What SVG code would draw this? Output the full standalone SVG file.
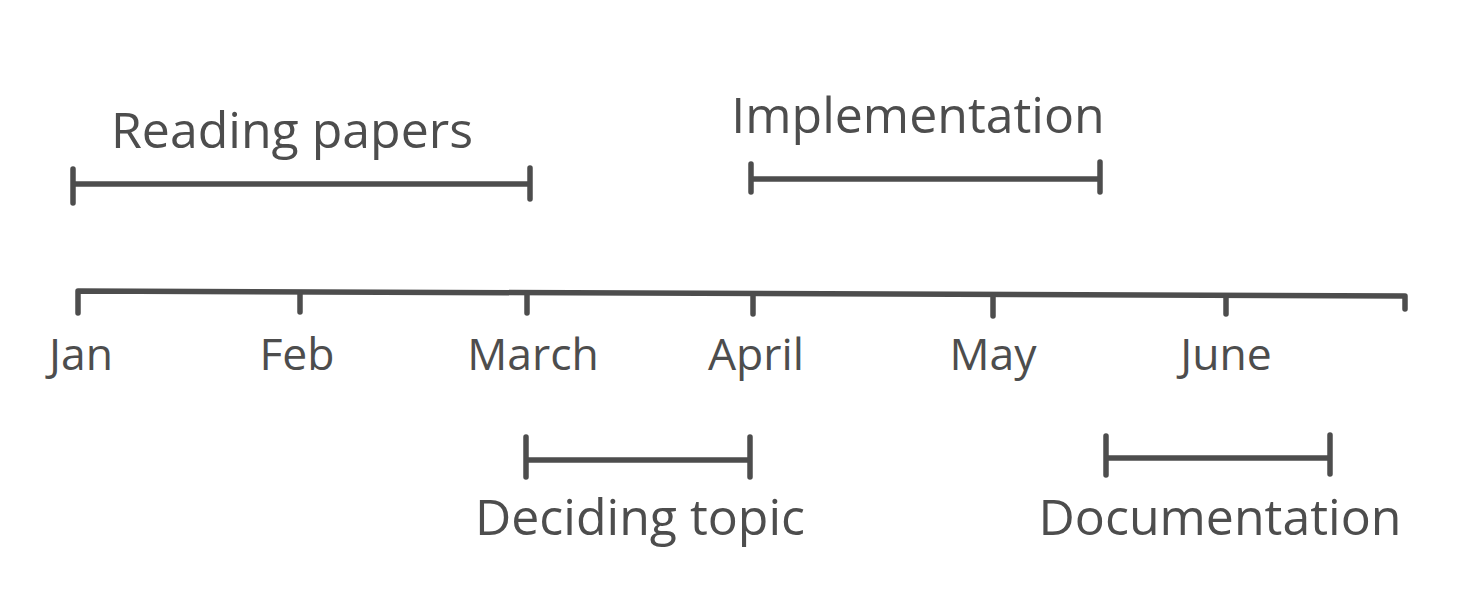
<svg xmlns="http://www.w3.org/2000/svg" width="1476" height="616" viewBox="0 0 1476 616">
<style>
.ln{stroke:#4d4d4d;stroke-width:5.5;stroke-linecap:round;stroke-linejoin:round;fill:none}
.mo{font-family:"Open Sans","Liberation Sans",sans-serif;font-size:44.5px;fill:#4d4d4d;text-anchor:middle}
.lb{font-family:"Open Sans","Liberation Sans",sans-serif;font-size:50px;fill:#4d4d4d;text-anchor:middle}
</style>
<rect width="1476" height="616" fill="#ffffff"/>
<g id="connectors">
<path id="timeline" class="ln" d="M78,313 L78,291 L1405,296 L1405,309"/>
<path class="ln" d="M300,293 L300,312 M527,294 L527,313 M753,295 L753,314 M993,296 L993,316 M1226,296 L1226,314"/>
</g>
<g id="reading-papers">
<path class="ln" d="M73,169 L73,203 M73,184 L530,184 M530,168 L530,199"/>
<text class="lb" x="292" y="148">Reading papers</text>
</g>
<g id="implementation">
<path class="ln" d="M751,164 L751,192 M751,179 L1100,179 M1100,162 L1100,192"/>
<text class="lb" x="918" y="133">Implementation</text>
</g>
<g id="deciding-topic">
<path class="ln" d="M526,437 L526,477 M526,460 L750,460 M750,437 L750,477"/>
<text class="lb" x="640" y="535">Deciding topic</text>
</g>
<g id="documentation">
<path class="ln" d="M1106,436 L1106,475 M1106,458 L1330,458 M1330,435 L1330,474"/>
<text class="lb" x="1220" y="535">Documentation</text>
</g>
<g id="months">
<text class="mo" x="81" y="370">Jan</text>
<text class="mo" x="297" y="370">Feb</text>
<text class="mo" x="533" y="370">March</text>
<text class="mo" x="756" y="370">April</text>
<text class="mo" x="993" y="370">May</text>
<text class="mo" x="1226" y="370">June</text>
</g>
</svg>
